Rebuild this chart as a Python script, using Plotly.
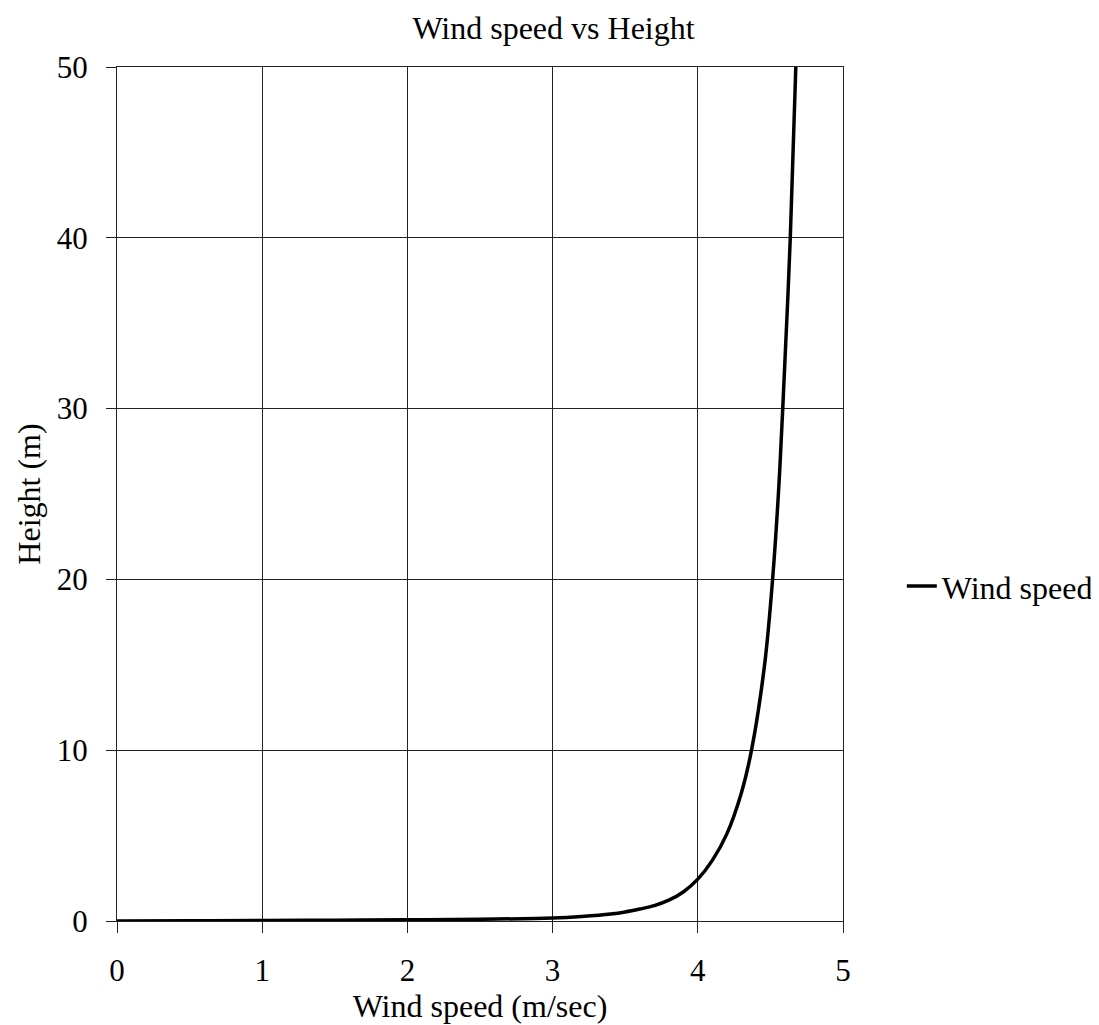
import plotly.graph_objects as go

# Data
wind_speed = [0.0, 0.5, 1.0, 1.5, 2.0, 2.5, 3.0, 3.2, 3.4, 3.5, 3.6, 3.7, 3.8,
              3.9, 4.0, 4.1, 4.2, 4.3, 4.37, 4.46, 4.515, 4.555, 4.585,
              4.637, 4.675]
height = [0.0, 0.015, 0.03, 0.05, 0.07, 0.1, 0.18, 0.27, 0.41, 0.53, 0.7, 0.9,
          1.22, 1.7, 2.45, 3.55, 5.1, 7.5, 10, 15, 20, 25, 30, 40, 50]

x_ticks = [0, 1, 2, 3, 4, 5]
y_ticks = [0, 10, 20, 30, 40, 50]

FONT = "Liberation Serif, Times New Roman, serif"

fig = go.Figure()
fig.add_trace(go.Scatter(
    x=wind_speed, y=height, mode="lines", name="Wind speed",
    line=dict(color="black", width=3.5, shape="spline", smoothing=1.0),
))

fig.update_layout(
    width=1091, height=1017,
    margin=dict(l=109, r=256, t=59, b=104, autoexpand=False),
    paper_bgcolor="white", plot_bgcolor="white",
    font=dict(family=FONT, color="black", size=31),
    title=dict(text="Wind speed vs Height", x=0.5, xref="container", xanchor="center",
               y=0.981, yref="container", yanchor="middle",
               font=dict(family=FONT, size=32)),
    showlegend=True,
    legend=dict(x=1.081, y=0.392, xanchor="left", yanchor="middle",
                font=dict(family=FONT, size=32), bgcolor="rgba(0,0,0,0)"),
    xaxis=dict(
        range=[0, 5], tickvals=x_ticks, ticktext=[str(v) for v in x_ticks],
        showgrid=True, gridcolor="#222", gridwidth=1,
        showline=True, linecolor="#222", mirror=True, linewidth=1,
        ticks="outside", ticklen=11, tickcolor="#222",
        ticklabelstandoff=11,
        zeroline=False,
        title=dict(text="Wind speed (m/sec)", font=dict(family=FONT, size=32), standoff=0),
        tickfont=dict(family=FONT, size=31),
    ),
    yaxis=dict(
        range=[0, 50], tickvals=y_ticks, ticktext=[str(v) for v in y_ticks],
        showgrid=True, gridcolor="#222", gridwidth=1,
        showline=True, linecolor="#222", mirror=True, linewidth=1,
        ticks="outside", ticklen=10, tickcolor="#222",
        ticklabelstandoff=12,
        zeroline=False,
        title=dict(text="Height (m)", font=dict(family=FONT, size=32), standoff=6),
        tickfont=dict(family=FONT, size=31),
    ),
)

fig.write_html("out.html")
